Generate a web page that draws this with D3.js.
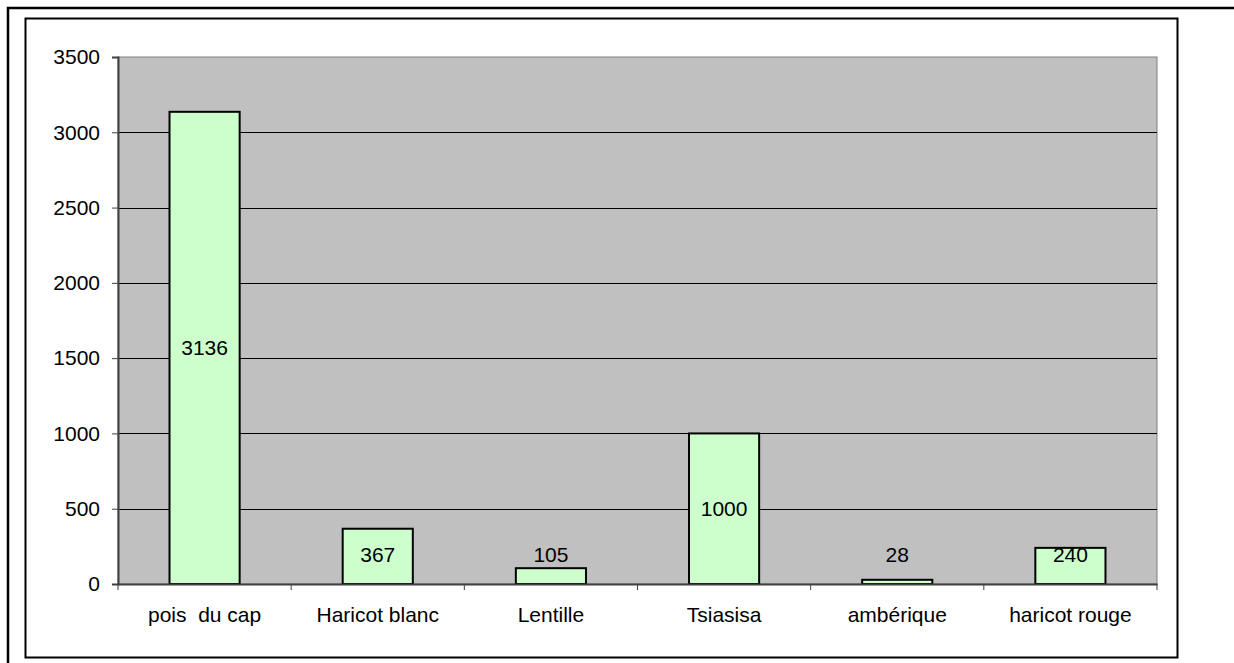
<!DOCTYPE html>
<html>
<head>
<meta charset="utf-8">
<script src="https://d3js.org/d3.v7.min.js"></script>
<style>
  body { margin: 0; background: #fff; }
  svg text { font-family: "Liberation Sans", Arial, sans-serif; font-size: 21px; fill: #000; white-space: pre; }
</style>
</head>
<body>
<svg id="chart" width="1234" height="663"></svg>
<script>
// donnees
var categories = ["pois  du cap", "Haricot blanc", "Lentille", "Tsiasisa", "ambérique", "haricot rouge"]
var values = [3136, 367, 105, 1000, 28, 240]
var yTicks = [0, 500, 1000, 1500, 2000, 2500, 3000, 3500]

var svg = d3.select("#chart")

// cadres
svg.append("path")
    .attr("d", "M8,663 L8,8 L1234,8")
    .attr("fill", "none").attr("stroke", "#000").attr("stroke-width", 2.5)
svg.append("rect")
    .attr("x", 25.5).attr("y", 18.5).attr("width", 1152).attr("height", 639)
    .attr("fill", "none").attr("stroke", "#000").attr("stroke-width", 2)

var plot = { left: 118, top: 57, right: 1157, bottom: 584 }

var x = d3.scaleBand()
    .domain(categories)
    .range([plot.left, plot.right])
    .paddingInner(0.595)
    .paddingOuter(0.2975)

var xGroup = d3.scaleBand()
    .domain(categories)
    .range([plot.left, plot.right])

var y = d3.scaleLinear()
    .domain([0, 3500])
    .range([plot.bottom, plot.top])

// zone de tracé
svg.append("rect")
    .attr("x", plot.left).attr("y", plot.top)
    .attr("width", plot.right - plot.left).attr("height", plot.bottom - plot.top)
    .attr("fill", "#c0c0c0")
    .attr("stroke", "#808080").attr("stroke-width", 1)

// quadrillage
svg.append("g")
    .selectAll("line")
    .data(yTicks.filter(function(d) { return d > 0 && d < 3500 }))
    .enter().append("line")
    .attr("x1", plot.left).attr("x2", plot.right)
    .attr("y1", function(d) { return Math.round(y(d)) + 0.5 })
    .attr("y2", function(d) { return Math.round(y(d)) + 0.5 })
    .attr("stroke", "#000").attr("stroke-width", 1)

// barres
svg.append("g")
    .selectAll("rect")
    .data(values)
    .enter().append("rect")
    .attr("x", function(d, i) { return x(categories[i]) })
    .attr("y", function(d) { return y(d) })
    .attr("width", x.bandwidth())
    .attr("height", function(d) { return y(0) - y(d) })
    .attr("fill", "#ccffcc")
    .attr("stroke", "#000").attr("stroke-width", 2)

// etiquettes de valeurs
svg.append("g")
    .selectAll("text")
    .data(values)
    .enter().append("text")
    .attr("x", function(d, i) { return x(categories[i]) + x.bandwidth() / 2 })
    .attr("y", function(d) { return Math.min((y(d) + y(0)) / 2, y(0) - 29) })
    .attr("dy", "0.35em")
    .attr("text-anchor", "middle")
    .text(function(d) { return d })

// axe Y
var yAxis = d3.axisLeft(y).tickValues(yTicks).tickFormat(d3.format("d")).tickSize(6).tickPadding(12)
var gy = svg.append("g")
    .attr("transform", "translate(" + plot.left + ",0)")
    .call(yAxis)
gy.attr("font-size", null).attr("font-family", null)
gy.select(".domain").attr("stroke", "#404040").attr("stroke-width", 2)
gy.selectAll(".tick line").attr("stroke", "#404040")
gy.selectAll("text").attr("fill", "#000")

// axe X
var xAxis = d3.axisBottom(xGroup).tickSize(0).tickPadding(23)
var gx = svg.append("g")
    .attr("transform", "translate(0," + plot.bottom + ")")
    .call(xAxis)
gx.attr("font-size", null).attr("font-family", null)
gx.select(".domain").attr("stroke", "#404040").attr("stroke-width", 2)
gx.selectAll("text").attr("fill", "#000")

// petits traits entre categories
svg.append("g")
    .selectAll("line")
    .data(d3.range(categories.length + 1))
    .enter().append("line")
    .attr("x1", function(i) { return plot.left + i * xGroup.step() })
    .attr("x2", function(i) { return plot.left + i * xGroup.step() })
    .attr("y1", plot.bottom).attr("y2", plot.bottom + 6)
    .attr("stroke", "#404040").attr("stroke-width", 1)
</script>
</body>
</html>
